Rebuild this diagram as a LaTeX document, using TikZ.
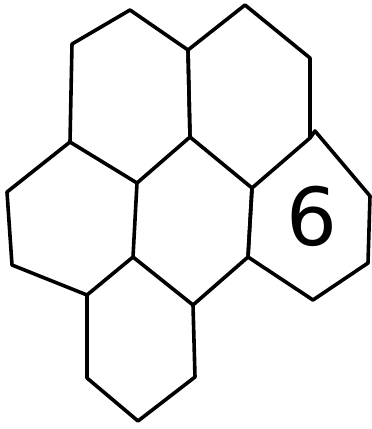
\documentclass[tikz,border=0pt]{standalone}
\usepackage{fontspec}
\setmainfont{DejaVu Sans}
\begin{document}
\begin{tikzpicture}[x=1pt,y=-1pt,
  cell/.style={draw=black,line width=3.6pt,line join=round,line cap=round},
  digit/.style={font=\fontsize{80}{84}\selectfont}]
\useasboundingbox (0,0) rectangle (372,429);
% vertices
\coordinate (a1) at (130,10);
\coordinate (a2) at (188,50);
\coordinate (a3) at (190,137);
\coordinate (a4) at (137,183);
\coordinate (a5) at (70,142);
\coordinate (a6) at (72,44);
\coordinate (b1) at (245,5);
\coordinate (b2) at (310,58);
\coordinate (b3) at (310,138);
\coordinate (b4) at (252,188);
\coordinate (c1) at (315,131);
\coordinate (c2) at (370,196);
\coordinate (c3) at (368,263);
\coordinate (c4) at (313,300);
\coordinate (c5) at (248,257);
\coordinate (d5) at (193,305);
\coordinate (d6) at (133,257);
\coordinate (e2) at (7,192);
\coordinate (e3) at (12,265);
\coordinate (e4) at (87,295);
\coordinate (f3) at (195,377);
\coordinate (f4) at (138,421);
\coordinate (f5) at (87,378);
% hexagons
\draw[cell] (a1) -- (a2) -- (a3) -- (a4) -- (a5) -- (a6) -- cycle;
\draw[cell] (b1) -- (b2) -- (b3) -- (b4) -- (a3) -- (a2) -- cycle;
\draw[cell] (b3) -- (c1) -- (c2) -- (c3) -- (c4) -- (c5) -- (b4);
\draw[cell] (b4) -- (c5) -- (d5) -- (d6) -- (a4);
\draw[cell] (a5) -- (e2) -- (e3) -- (e4) -- (d6);
\draw[cell] (d5) -- (f3) -- (f4) -- (f5) -- (e4);
\node[digit,inner sep=0pt,anchor=base] (six) at (312,245) {6};
\end{tikzpicture}
\end{document}
